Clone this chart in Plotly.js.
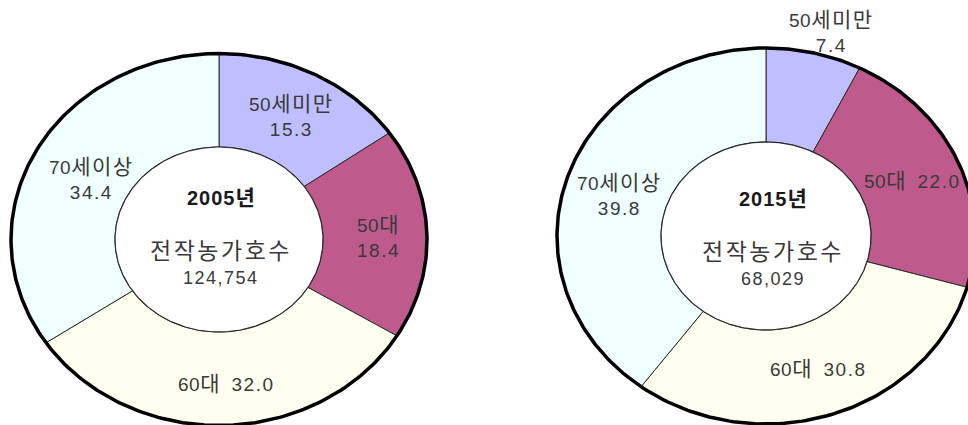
<!DOCTYPE html>
<html>
<head>
<meta charset="utf-8">
<script src="https://cdn.plot.ly/plotly-3.0.1.min.js"></script>
<style>
  html, body { margin: 0; padding: 0; background: #ffffff; }
  #chart { width: 968px; height: 425px; }
</style>
</head>
<body>
<div id="chart"></div>
<script>
// Age groups of farm-household heads (전작농가) and their shares, %
const categories = ['50세미만', '50대', '60대', '70세이상'];
const share2005 = [15.3, 18.4, 32.0, 34.4];
const share2015 = [7.4, 22.0, 30.8, 39.8];
const years = ['2005년', '2015년'];
const households = [124754, 68029];
const centerCaption = '전작농가호수';
const sliceColors = ['#bfbfff', '#be5a8c', '#fffff0', '#f0ffff'];

const FONT = '"Liberation Sans", "Noto Sans CJK KR", sans-serif';

// Geometry of each ring (pixel units on a 968 x 425 canvas)
const rings = [
  { cx: 219, cy: 239.5, rx: 208, ry: 186, rxIn: 104, ryIn: 92.5 },
  { cx: 766, cy: 236,   rx: 209, ry: 188, rxIn: 105, ryIn: 94 }
];

// Label placement per ring: centre point and whether value sits on a 2nd line
const labelPlacement = [
  [ { x: 291, y: 116, twoLine: true },
    { x: 378, y: 237, twoLine: true },
    { x: 226, y: 383, twoLine: false },
    { x: 91,  y: 179, twoLine: true } ],
  [ { x: 831, y: 32,  twoLine: true },
    { x: 912, y: 180, twoLine: false },
    { x: 818, y: 368, twoLine: false },
    { x: 619, y: 195, twoLine: true } ]
];
const centerPlacement = [
  { x: 221, yYear: 197, yCap: 251, yNum: 278 },
  { x: 773, yYear: 198, yCap: 252, yNum: 279 }
];

const series = [share2005, share2015];
const traces = [];
const annotations = [];
const STEPS = 120;

function ellipsePoint(g, frac, outer) {
  const a = frac * 2 * Math.PI;
  const rx = outer ? g.rx : g.rxIn;
  const ry = outer ? g.ry : g.ryIn;
  return [g.cx + rx * Math.sin(a), g.cy - ry * Math.cos(a)];
}

// Hangul runs are set a little larger and more open than the digits
function styled(txt, hSize, hSpace, dSpace) {
  return txt.split(/([\uAC00-\uD7A3]+)/).filter(s => s.length).map(s =>
    /[\uAC00-\uD7A3]/.test(s)
      ? '<span style="font-size:' + hSize + 'px;letter-spacing:' + hSpace + 'px">' + s + '</span>'
      : '<span style="letter-spacing:' + dSpace + 'px">' + s + '</span>'
  ).join('');
}
function fmt(v) { return v.toFixed(1); }
function fmtInt(v) { return v.toLocaleString('en-US'); }

series.forEach((vals, k) => {
  const g = rings[k];
  const total = vals.reduce((s, v) => s + v, 0);
  let start = 0;
  vals.forEach((v, i) => {
    const end = start + v / total;
    const xs = [], ys = [];
    const n = Math.max(4, Math.ceil(STEPS * (end - start)));
    for (let j = 0; j <= n; j++) {
      const p = ellipsePoint(g, start + (end - start) * j / n, true);
      xs.push(p[0]); ys.push(p[1]);
    }
    for (let j = n; j >= 0; j--) {
      const p = ellipsePoint(g, start + (end - start) * j / n, false);
      xs.push(p[0]); ys.push(p[1]);
    }
    xs.push(xs[0]); ys.push(ys[0]);
    traces.push({
      type: 'scatter', mode: 'lines', x: xs, y: ys,
      fill: 'toself', fillcolor: sliceColors[i],
      line: { color: '#2b2b2b', width: 1 },
      hoverinfo: 'skip', showlegend: false
    });

    const lp = labelPlacement[k][i];
    const cat = styled(categories[i], 21, 1.5, 0.5);
    const val = styled(fmt(v), 21, 1.5, 1.5);
    annotations.push({
      xref: 'x', yref: 'y', x: lp.x, y: lp.y,
      text: lp.twoLine ? cat + '<br>' + val : cat + '\u00a0\u00a0' + val,
      showarrow: false, xanchor: 'center', yanchor: 'middle',
      align: 'center',
      font: { family: FONT, size: 19, color: '#3a3a3a' }
    });
    start = end;
  });

  // outer rim and inner hole outline
  const ox = [], oy = [], ix = [], iy = [];
  for (let j = 0; j <= 360; j++) {
    const po = ellipsePoint(g, j / 360, true);
    const pi = ellipsePoint(g, j / 360, false);
    ox.push(po[0]); oy.push(po[1]);
    ix.push(pi[0]); iy.push(pi[1]);
  }
  traces.push({
    type: 'scatter', mode: 'lines', x: ix, y: iy,
    fill: 'toself', fillcolor: '#ffffff',
    line: { color: '#2b2b2b', width: 1.2 },
    hoverinfo: 'skip', showlegend: false
  });
  traces.push({
    type: 'scatter', mode: 'lines', x: ox, y: oy,
    line: { color: '#000000', width: 3.5 },
    hoverinfo: 'skip', showlegend: false
  });

  const cp = centerPlacement[k];
  annotations.push({
    xref: 'x', yref: 'y', x: cp.x, y: cp.yYear, text: '<b>' + styled(years[k], 21, 0, 1) + '</b>',
    showarrow: false, xanchor: 'center', yanchor: 'middle',
    font: { family: FONT, size: 20, color: '#1a1a1a' }
  });
  annotations.push({
    xref: 'x', yref: 'y', x: cp.x, y: cp.yCap, text: styled(centerCaption, 23, 2.5, 0),
    showarrow: false, xanchor: 'center', yanchor: 'middle',
    font: { family: FONT, size: 22, color: '#3a3a3a' }
  });
  annotations.push({
    xref: 'x', yref: 'y', x: cp.x, y: cp.yNum, text: styled(fmtInt(households[k]), 21, 0, 1.5),
    showarrow: false, xanchor: 'center', yanchor: 'middle',
    font: { family: FONT, size: 18, color: '#3a3a3a' }
  });
});

const layout = {
  width: 968, height: 425,
  margin: { l: 0, r: 0, t: 0, b: 0, pad: 0 },
  paper_bgcolor: '#ffffff', plot_bgcolor: '#ffffff',
  xaxis: { range: [0, 968], visible: false, fixedrange: true },
  yaxis: { range: [425, 0], visible: false, fixedrange: true },
  annotations: annotations,
  showlegend: false
};

Plotly.newPlot('chart', traces, layout, { displayModeBar: false, staticPlot: true });
</script>
</body>
</html>
